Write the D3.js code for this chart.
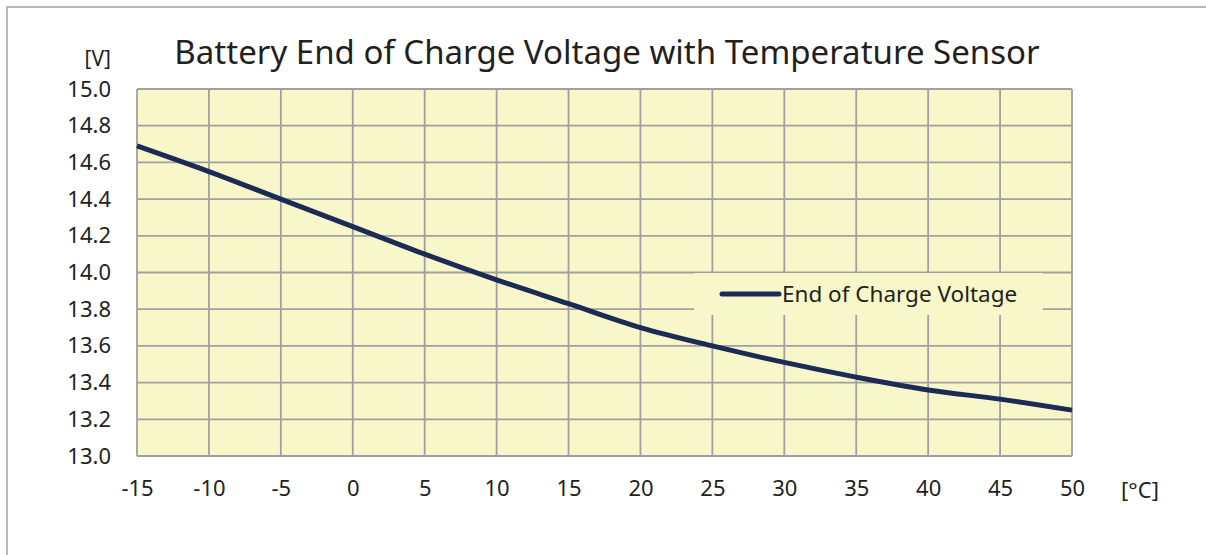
<!DOCTYPE html>
<html>
<head>
<meta charset="utf-8">
<script src="https://cdn.jsdelivr.net/npm/d3@7"></script>
<style>
  body { margin: 0; background: #fff; }
  text { fill: #231f20; }
</style>
</head>
<body>
<script>
// chart data
var temps = [-15, -10, -5, 0, 5, 10, 15, 20, 25, 30, 35, 40, 45, 50];
var voltage = [14.69, 14.55, 14.40, 14.25, 14.10, 13.96, 13.83, 13.70, 13.60, 13.51, 13.43, 13.36, 13.31, 13.25];
var yTicks = [13.0, 13.2, 13.4, 13.6, 13.8, 14.0, 14.2, 14.4, 14.6, 14.8, 15.0];
var titleText = 'Battery End of Charge Voltage with Temperature Sensor';
var seriesName = 'End of Charge Voltage';

var width = 1206, height = 555;
var plot = { left: 137, right: 1072, top: 89, bottom: 456 };
var font = 'Noto Sans, sans-serif';

var svg = d3.select('body').append('svg')
  .attr('width', width).attr('height', height);

// outer frame (only top and left edges are visible)
svg.append('path')
  .attr('d', 'M7,' + height + 'V7H' + width)
  .attr('fill', 'none').attr('stroke', '#a3a3a3').attr('stroke-width', 1.5);

var x = d3.scaleLinear().domain([-15, 50]).range([plot.left, plot.right]);
var y = d3.scaleLinear().domain([13, 15]).range([plot.bottom, plot.top]);

svg.append('rect')
  .attr('x', plot.left).attr('y', plot.top)
  .attr('width', plot.right - plot.left).attr('height', plot.bottom - plot.top)
  .attr('fill', '#f8f7c9');

// grid
svg.append('g').selectAll('line').data(temps).enter().append('line')
  .attr('x1', function (d) { return x(d); }).attr('x2', function (d) { return x(d); })
  .attr('y1', plot.top).attr('y2', plot.bottom)
  .attr('stroke', '#a0a0a0').attr('stroke-width', 1.8);
svg.append('g').selectAll('line').data(yTicks).enter().append('line')
  .attr('x1', plot.left).attr('x2', plot.right)
  .attr('y1', function (d) { return y(d); }).attr('y2', function (d) { return y(d); })
  .attr('stroke', '#a0a0a0').attr('stroke-width', 1.8);

// axes labels
var yAxis = svg.append('g')
  .attr('transform', 'translate(' + (plot.left - 26) + ',0)')
  .call(d3.axisLeft(y).tickValues(yTicks).tickFormat(d3.format('.1f')).tickSize(0).tickPadding(0));
yAxis.select('.domain').remove();
yAxis.selectAll('text').attr('font-family', font).attr('font-size', 22).style('fill', '#231f20');

var xAxis = svg.append('g')
  .attr('transform', 'translate(0,' + (plot.bottom + 24) + ')')
  .call(d3.axisBottom(x).tickValues(temps).tickFormat(function (d) { return String(d); })
    .tickSize(0).tickPadding(0));
xAxis.select('.domain').remove();
xAxis.selectAll('text').attr('font-family', font).attr('font-size', 22).style('fill', '#231f20');

svg.append('text').attr('x', 111).attr('y', 66).attr('text-anchor', 'end')
  .attr('font-family', font).attr('font-size', 21).text('[V]');
svg.append('text').attr('x', 1140).attr('y', 498).attr('text-anchor', 'middle')
  .attr('font-family', font).attr('font-size', 22).text('[\u00b0C]');

// title
svg.append('text').attr('x', 607).attr('y', 64).attr('text-anchor', 'middle')
  .attr('font-family', font).attr('font-size', 33).text(titleText);

// legend box
svg.append('rect').attr('x', 694).attr('y', 273).attr('width', 349).attr('height', 42)
  .attr('fill', '#f8f7c9');
svg.append('line').attr('x1', 722).attr('x2', 779).attr('y1', 294).attr('y2', 294)
  .attr('stroke', '#1c2a56').attr('stroke-width', 5).attr('stroke-linecap', 'round');
svg.append('text').attr('x', 782).attr('y', 302)
  .attr('font-family', font).attr('font-size', 22.5).text(seriesName);

// series line
var line = d3.line()
  .x(function (d, i) { return x(temps[i]); })
  .y(function (d) { return y(d); })
  .curve(d3.curveCatmullRom);
svg.append('path').datum(voltage)
  .attr('d', line)
  .attr('fill', 'none').attr('stroke', '#1c2a56').attr('stroke-width', 5);
</script>
</body>
</html>
